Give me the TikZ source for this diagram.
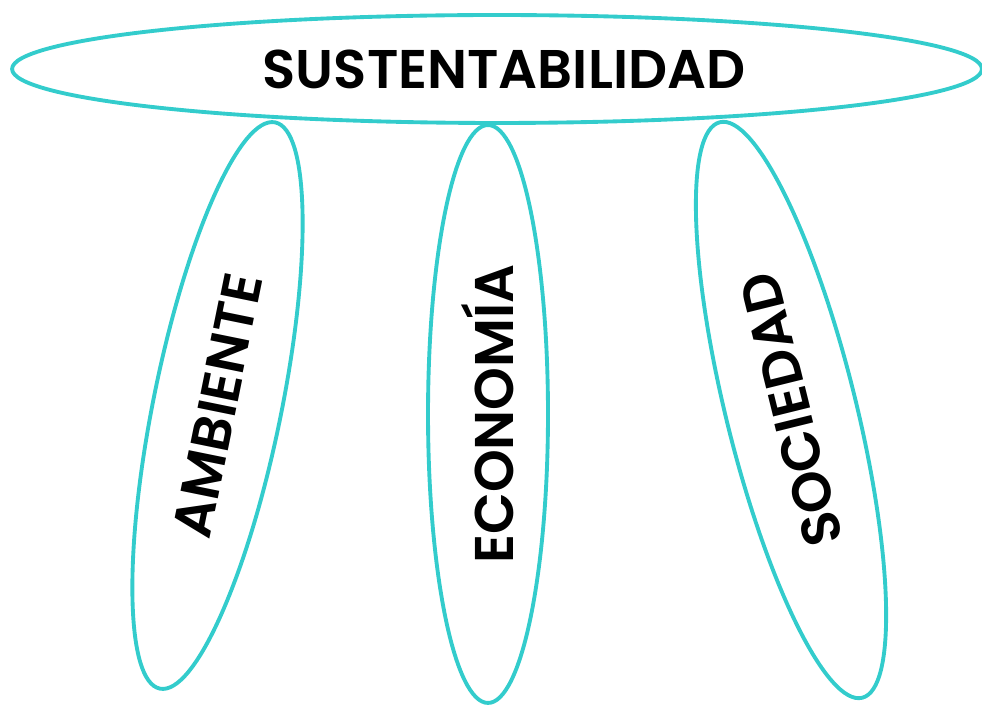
\documentclass[tikz,border=0pt]{standalone}
\usepackage{fontspec}
\setmainfont{Poppins}[BoldFont={* SemiBold}]
\usetikzlibrary{shapes,positioning}
\definecolor{turquesa}{RGB}{51,204,204}

\begin{document}
\begin{tikzpicture}[x=0.02cm, y=0.02cm,
    elipse/.style={ellipse, draw=turquesa, line width=2.2pt, inner sep=0pt},
    rotulo/.style={font=\fontsize{31}{37}\selectfont\bfseries}]
    \useasboundingbox (0,0) rectangle (982,707);

    % Top ellipse
    \node[elipse, rotulo, minimum width=19.4cm, minimum height=2.16cm] (sust) at (497,638) {\hspace{0.28cm}SUSTENTABILIDAD};

    % Pillars
    \foreach \name/\x/\y/\ang/\largo/\ancho/\txt in {ambiente/217.5/301.5/78.5/11.56/2.56/AMBIENTE, economia/488/293/90/11.56/2.4/ECONOMÍA, sociedad/791/297/103.9/11.86/2.6/SOCIEDAD} {
        \node[elipse, rotulo, rotate=\ang, minimum width=\largo cm, minimum height=\ancho cm] (\name) at (\x,\y) {\txt};
    }
\end{tikzpicture}
\end{document}
